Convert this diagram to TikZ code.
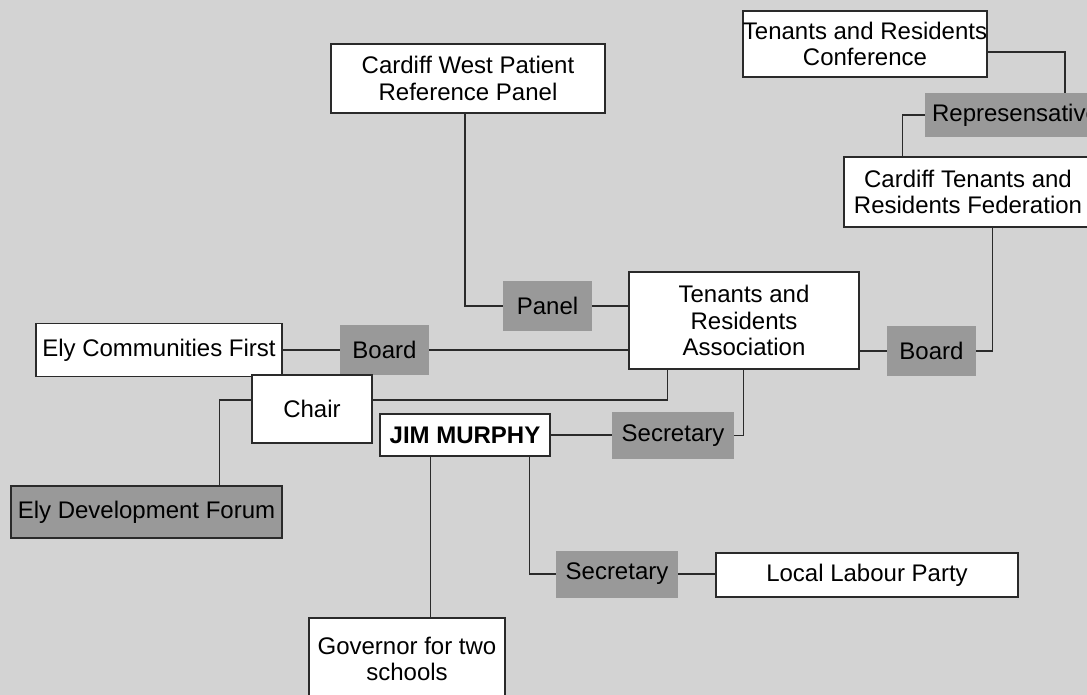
\documentclass[tikz,border=0pt]{standalone}
\usepackage{fontspec}
\setmainfont{Liberation Sans}
\definecolor{bgc}{HTML}{D3D3D3}
\definecolor{gfill}{HTML}{999999}
\definecolor{edgec}{HTML}{2A2A2A}
\newcommand\fs{\fontsize{24}{26.5}\selectfont}
\tikzset{
  wbox/.style={draw=edgec, line width=1.3pt, fill=white, inner sep=0pt, align=center, font=\fs},
  gbox/.style={fill=gfill, inner sep=0pt, align=center, font=\fs},
  conn/.style={draw=edgec, line width=1.4pt},
}
\begin{document}
\begin{tikzpicture}[x=1pt,y=-1pt]
\useasboundingbox (0,0) rectangle (1087,695);
\fill[bgc] (0,0) rectangle (1087,695);
\clip (0,0) rectangle (1087,695);
% nodes
\node[wbox, minimum width=242pt, minimum height=66pt] (conf) at (865,44) {Tenants and Residents\\Conference};
\node[gbox, minimum width=181pt, minimum height=44pt] (rep) at (1015.5,115) {Represensative};
\node[wbox, minimum width=248pt, minimum height=70pt] (ctrf) at (968,192) {Cardiff Tenants and\\Residents Federation};
\node[wbox, minimum width=274pt, minimum height=69pt] (cwprp) at (468,78.5) {Cardiff West Patient\\Reference Panel};
\node[wbox, minimum width=230pt, minimum height=97pt] (tra) at (744,320.5) {Tenants and\\Residents\\Association};
\node[gbox, minimum width=89pt, minimum height=50pt] (panel) at (547.5,306) {Panel};
\node[gbox, minimum width=89pt, minimum height=50pt] (boardL) at (384.5,350) {Board};
\node[gbox, minimum width=89pt, minimum height=50pt] (boardR) at (931.5,351) {Board};
\node[wbox, minimum width=246pt, minimum height=53pt] (ecf) at (159,350) {Ely Communities First};
\node[wbox, minimum width=120pt, minimum height=68pt] (chair) at (312,409) {Chair};
\node[gbox, draw=edgec, line width=1.3pt, minimum width=271pt, minimum height=52pt] (edf) at (146.5,512) {Ely Development Forum};
\node[wbox, minimum width=170pt, minimum height=42pt, font=\fs\bfseries] (jim) at (465,435) {JIM MURPHY};
\node[gbox, minimum width=122pt, minimum height=47pt] (sec1) at (673,435.5) {Secretary};
\node[gbox, minimum width=122pt, minimum height=47pt] (sec2) at (617,574) {Secretary};
\node[wbox, minimum width=302pt, minimum height=44pt] (llp) at (867,575) {Local Labour Party};
\node[wbox, minimum width=196pt, minimum height=82pt] (gov) at (407,659) {Governor for two\\schools};
% connectors
\coordinate (jg) at ([xshift=51pt]jim.south west);
\coordinate (js) at ([xshift=150pt]jim.south west);
\draw[conn] ([yshift=-8pt]conf.east) -| ([xshift=140pt]rep.north west);
\draw[conn] (rep.west) -| ([xshift=59pt]ctrf.north west);
\draw[conn] ([xshift=149pt]ctrf.south west) |- (boardR.east);
\draw[conn] ([xshift=-3pt]cwprp.south) |- (panel.west);
\draw[conn] (panel.east) -- (tra.west |- panel.east);
\draw[conn] (boardL.east) -- (tra.west |- boardL.east);
\draw[conn] (ecf.east) -- (boardL.west |- ecf.east);
\draw[conn] (boardR.west) -- (tra.east |- boardR.west);
\draw[conn] ([yshift=9pt]chair.east) -| ([xshift=39pt]tra.south west);
\draw[conn] ([yshift=9pt]chair.west) -| ([xshift=209pt]edf.north west);
\draw[conn] (jim.east) -- (sec1.west |- jim.east);
\draw[conn] (sec1.east) -| ([xshift=115pt]tra.south west);
\draw[conn] (jg) -- (jg |- gov.north);
\draw[conn] (js) |- (sec2.west);
\draw[conn] (sec2.east) -- (llp.west |- sec2.east);
\end{tikzpicture}
\end{document}
